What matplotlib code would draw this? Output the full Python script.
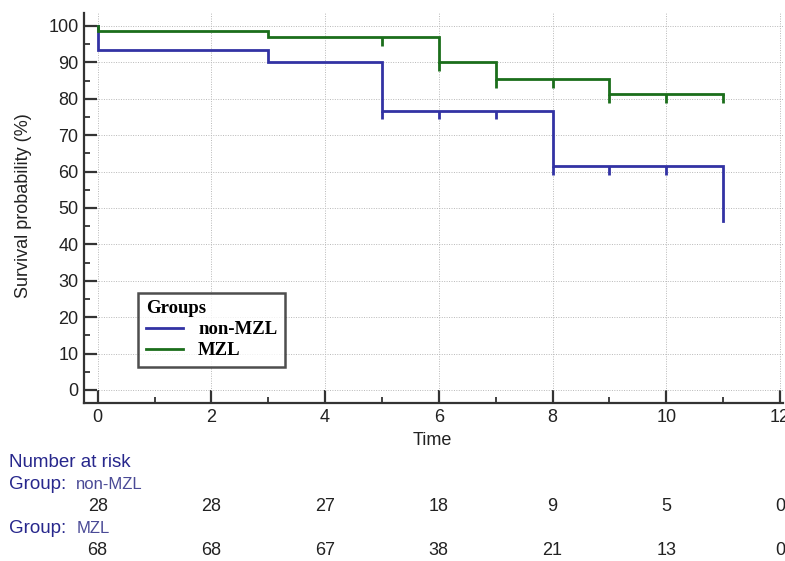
import numpy as np
import matplotlib
matplotlib.use("Agg")
import matplotlib.pyplot as plt
from matplotlib.ticker import MultipleLocator
import matplotlib.transforms as mtransforms

plt.rcParams['font.family'] = ['Liberation Sans', 'DejaVu Sans']

# Kaplan-Meier steps (time of drop, survival % after drop)
groups = ["non-MZL", "MZL"]
nonmzl_times = [0, 0, 3, 5, 8, 11]
nonmzl_surv = [100, 93.3, 90.0, 76.7, 61.5, 46.5]
nonmzl_censor = [5, 6, 7, 8, 9, 10]

mzl_times = [0, 0, 3, 6, 7, 9, 11]
mzl_surv = [100, 98.5, 96.9, 90.0, 85.4, 81.3, 81.3]
mzl_censor = [5, 6, 7, 8, 9, 10, 11]

# number at risk table
risk_times = [0, 2, 4, 6, 8, 10, 12]
nonmzl_risk = [28, 28, 27, 18, 9, 5, 0]
mzl_risk = [68, 68, 67, 38, 21, 13, 0]

blue = "#3232a4"
green = "#1b6e1b"

fig = plt.figure(figsize=(7.85, 5.61), dpi=100)
ax = fig.add_axes([0.107, 0.2816, 0.891, 0.6955])

def surv_at(times, surv, t):
    # value of the step curve just after time t
    idx = np.searchsorted(times, t, side="right") - 1
    return surv[idx]

for times, surv, cens, col, name in [(nonmzl_times, nonmzl_surv, nonmzl_censor, blue, groups[0]),
                                     (mzl_times, mzl_surv, mzl_censor, green, groups[1])]:
    ax.step(times, surv, where="post", color=col, lw=2.0, label=name, solid_joinstyle="miter")
    cy = [surv_at(times, surv, c) for c in cens]
    ax.vlines(cens, np.array(cy) - 2.4, cy, color=col, lw=2.0)

ax.set_xlim(-0.24, 12.06)
ax.set_ylim(-3.6, 103.6)
ax.xaxis.set_major_locator(MultipleLocator(2))
ax.xaxis.set_minor_locator(MultipleLocator(1))
ax.yaxis.set_major_locator(MultipleLocator(10))
ax.yaxis.set_minor_locator(MultipleLocator(5))

for s in ["top", "right"]:
    ax.spines[s].set_visible(False)
for s in ["left", "bottom"]:
    ax.spines[s].set_linewidth(1.6)
    ax.spines[s].set_color("#333333")

ax.tick_params(which="major", direction="in", length=9.5, width=1.6, color="#333333",
               labelsize=13, pad=4, labelcolor="#222222")
ax.tick_params(which="minor", direction="in", length=4.5, width=1.3, color="#333333")
ax.grid(which="major", color="#b8b8b8", lw=0.7, ls=(0, (1, 1.5)))

fig.text(0.030, 0.634, "Survival probability (%)", rotation=90, ha="center", va="center",
         fontsize=13, color="#222222")
fig.text(0.551, 0.214, "Time", ha="center", va="center", fontsize=13, color="#222222")

leg = ax.legend(loc="upper left", bbox_to_anchor=(0.176, 0.478), bbox_transform=fig.transFigure,
                title="Groups", fancybox=False, frameon=True, handlelength=2.0,
                borderpad=0.4, labelspacing=0.2, handletextpad=0.8, borderaxespad=0,
                prop={"family": "Liberation Serif", "weight": "bold", "size": 13.5})
leg.get_title().set_fontfamily("Liberation Serif")
leg.get_title().set_fontweight("bold")
leg.get_title().set_fontsize(13.5)
leg._legend_box.align = "left"
leg.get_frame().set_edgecolor("#222222")
leg.get_frame().set_linewidth(1.8)
for line in leg.get_lines():
    line.set_linewidth(2.0)

# risk table
dark = "#27278c"
fig.text(0.012, 0.1747, "Number at risk", ha="left", va="center", fontsize=13.5, color=dark)
fig.text(0.012, 0.137, "Group:", ha="left", va="center", fontsize=13.5, color=dark)
fig.text(0.097, 0.137, groups[0], ha="left", va="center", fontsize=12, color="#4a4a96")
fig.text(0.012, 0.0588, "Group:", ha="left", va="center", fontsize=13.5, color=dark)
fig.text(0.097, 0.0588, groups[1], ha="left", va="center", fontsize=12, color="#4a4a96")

trans = mtransforms.blended_transform_factory(ax.transData, fig.transFigure)
for t, n1, n2 in zip(risk_times, nonmzl_risk, mzl_risk):
    ax.text(t, 0.0963, str(n1), transform=trans, ha="center", va="center", fontsize=13,
            color="#222222", clip_on=False)
    ax.text(t, 0.0196, str(n2), transform=trans, ha="center", va="center", fontsize=13,
            color="#222222", clip_on=False)

fig.savefig("out.png", dpi=100)
